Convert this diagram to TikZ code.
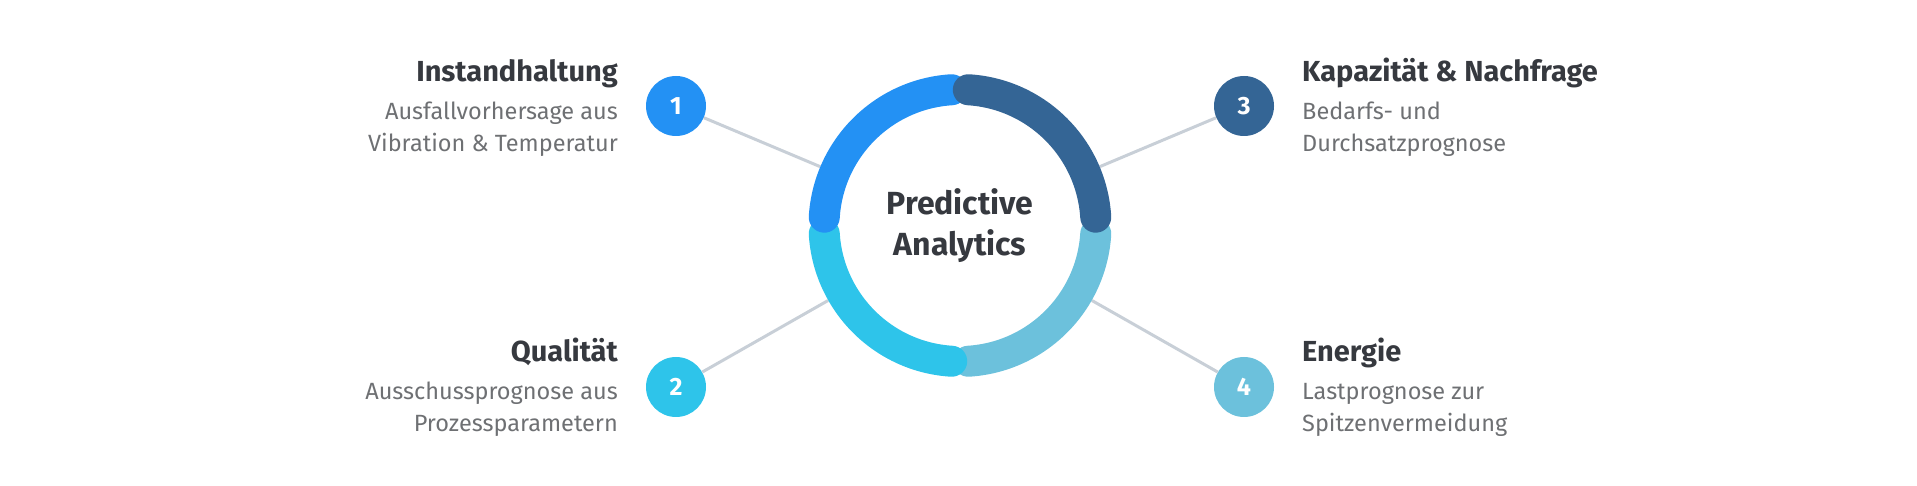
\documentclass[tikz,border=0pt]{standalone}
\usepackage{fontspec}
\setmainfont{Fira Sans}
\definecolor{segA}{HTML}{2391F4}
\definecolor{segB}{HTML}{2EC4EA}
\definecolor{segC}{HTML}{346595}
\definecolor{segD}{HTML}{6CC1DC}
\definecolor{titlegray}{HTML}{36393F}
\definecolor{descgray}{HTML}{6E7073}
\definecolor{linkgray}{HTML}{C8CFD7}
\begin{document}
\begin{tikzpicture}[x=1pt,y=1pt,
    num/.style={circle,inner sep=0pt,minimum size=60pt,text=white,font=\bfseries\fontsize{25}{25}\selectfont},
    title/.style={inner sep=0pt,text=titlegray,font=\bfseries\fontsize{29}{32}\selectfont},
    desc/.style={inner sep=0pt,text=descgray,font=\fontsize{23.5}{32}\selectfont},
    link/.style={linkgray,line width=3pt},
    ring/.style={line width=31pt,line cap=round}]
    \useasboundingbox (0,0) rectangle (1917,486);
    \path
    (960,260.5) node[circle,inner sep=0pt,minimum size=303pt,align=center,text=titlegray,font=\bfseries\fontsize{32}{41}\selectfont](hub) {Predictive\\Analytics}
    (676,380) node[num,fill=segA](n1) {1}
    (676,99) node[num,fill=segB](n2) {2}
    (1244,380) node[num,fill=segC](n3) {3}
    (1244,99) node[num,fill=segD](n4) {4}
    (618,404) node[title,anchor=base east](t1) {Instandhaltung}
    (618,334) node[desc,anchor=base east,align=right](d1) {Ausfallvorhersage aus\\Vibration \& Temperatur}
    (618,124) node[title,anchor=base east](t2) {Qualität}
    (618,54) node[desc,anchor=base east,align=right](d2) {Ausschussprognose aus\\Prozessparametern}
    (1302,404) node[title,anchor=base west](t3) {Kapazität \& Nachfrage}
    (1302,334) node[desc,anchor=base west,align=left](d3) {Bedarfs- und\\Durchsatzprognose}
    (1302,124) node[title,anchor=base west](t4) {Energie}
    (1302,54) node[desc,anchor=base west,align=left](d4) {Lastprognose zur\\Spitzenvermeidung};

    \draw[link] (n1) -- (hub);
    \draw[link] (n2) -- (hub);
    \draw[link] (n3) -- (hub);
    \draw[link] (n4) -- (hub);

    % ring segments, drawn so that each cap overlaps the one before
    \foreach \a/\col in {273.5/segD,183.5/segB,93.5/segA,3.5/segC}
        \draw[ring,\col] ([shift={(\a:136)}]hub.center) arc[start angle=\a,delta angle=83,radius=136];
\end{tikzpicture}
\end{document}
